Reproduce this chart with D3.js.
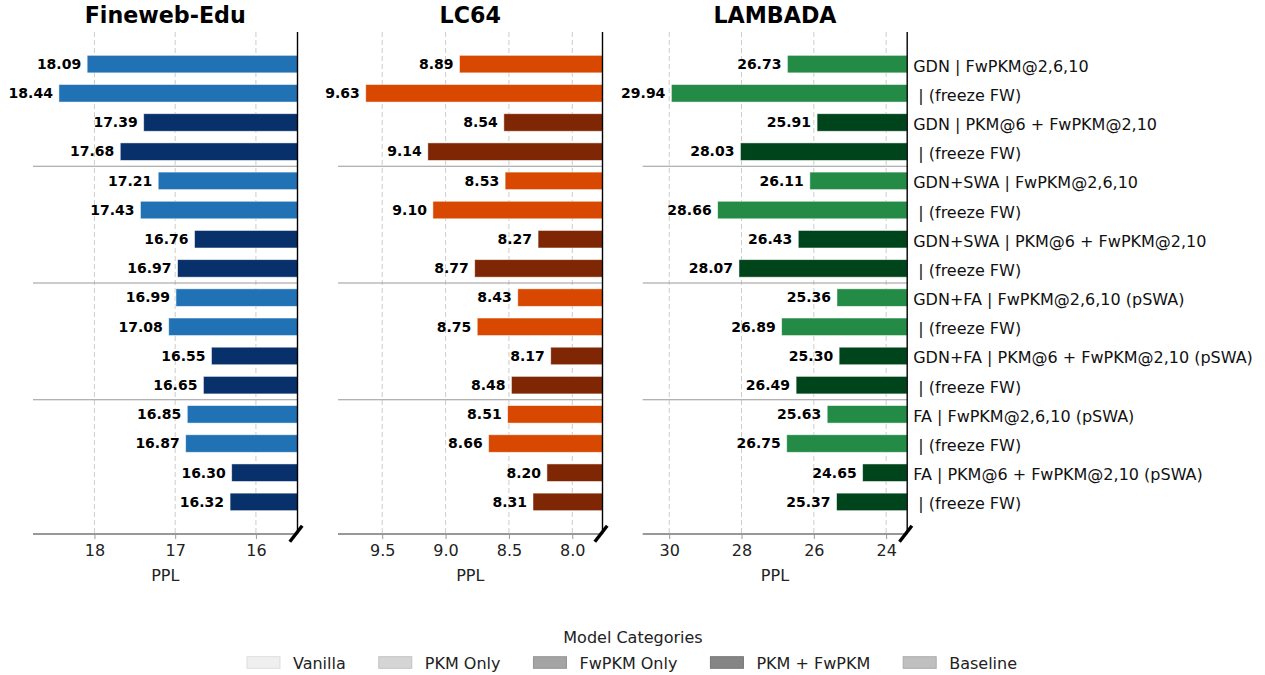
<!DOCTYPE html>
<html>
<head>
<meta charset="utf-8">
<script src="https://cdn.jsdelivr.net/npm/d3@7"></script>
<style>
  body { margin: 0; background: #fff; }
  svg { font-family: "DejaVu Sans", sans-serif; }
  text { white-space: pre; }
</style>
</head>
<body>
<svg id="chart" width="1265" height="675"></svg>
<script>
// data
var rowLabels = [
	"GDN | FwPKM@2,6,10", " | (freeze FW)",
	"GDN | PKM@6 + FwPKM@2,10", " | (freeze FW)",
	"GDN+SWA | FwPKM@2,6,10", " | (freeze FW)",
	"GDN+SWA | PKM@6 + FwPKM@2,10", " | (freeze FW)",
	"GDN+FA | FwPKM@2,6,10 (pSWA)", " | (freeze FW)",
	"GDN+FA | PKM@6 + FwPKM@2,10 (pSWA)", " | (freeze FW)",
	"FA | FwPKM@2,6,10 (pSWA)", " | (freeze FW)",
	"FA | PKM@6 + FwPKM@2,10 (pSWA)", " | (freeze FW)"
];
// category of each row: "fw" = FwPKM Only, "both" = PKM + FwPKM
var rowCategory = ["fw", "fw", "both", "both", "fw", "fw", "both", "both",
	"fw", "fw", "both", "both", "fw", "fw", "both", "both"];

var finewebPPL = [18.09, 18.44, 17.39, 17.68, 17.21, 17.43, 16.76, 16.97,
	16.99, 17.08, 16.55, 16.65, 16.85, 16.87, 16.30, 16.32];
var lc64PPL = [8.89, 9.63, 8.54, 9.14, 8.53, 9.10, 8.27, 8.77,
	8.43, 8.75, 8.17, 8.48, 8.51, 8.66, 8.20, 8.31];
var lambadaPPL = [26.73, 29.94, 25.91, 28.03, 26.11, 28.66, 26.43, 28.07,
	25.36, 26.89, 25.30, 26.49, 25.63, 26.75, 24.65, 25.37];

var finewebTicks = [18, 17, 16];
var lc64Ticks = [9.5, 9.0, 8.5, 8.0];
var lambadaTicks = [30, 28, 26, 24];

var groupBreaks = [3.5, 7.5, 11.5];

var legendNames = ["Vanilla", "PKM Only", "FwPKM Only", "PKM + FwPKM", "Baseline"];
var legendFills = ["#efefef", "#d5d5d5", "#a4a4a4", "#858585", "#bfbfbf"];
var legendEdges = ["#dedede", "#c2c2c2", "#949494", "#777777", "#acacac"];

var panels = [
	{ title: "Fineweb-Edu", values: finewebPPL, ticks: finewebTicks, fmt: d3.format("d"),
		colors: { fw: "#2171b5", both: "#08306b" }, left: 33 },
	{ title: "LC64", values: lc64PPL, ticks: lc64Ticks, fmt: d3.format(".1f"),
		colors: { fw: "#d94801", both: "#7f2704" }, left: 338 },
	{ title: "LAMBADA", values: lambadaPPL, ticks: lambadaTicks, fmt: d3.format("d"),
		colors: { fw: "#238b45", both: "#00441b" }, left: 642.7 }
];

var panelWidth = 264.5,
	plotTop = 32,
	plotBottom = 534;

var svg = d3.select("#chart");

var y = d3.scaleLinear().domain([-1.1, 16.1]).range([plotTop, plotBottom]);
var barH = y(0.6) - y(0);

panels.forEach(function (p, pi) {
	var vmax = d3.max(p.values),
		vmin = d3.min(p.values);
	// reversed axis: larger ppl on the left
	var x = d3.scaleLinear()
		.domain([vmax + 0.15 * (vmax - vmin), vmin * 0.95])
		.range([p.left, p.left + panelWidth]);
	var right = p.left + panelWidth;

	var g = svg.append("g").attr("class", "panel");

	// grid
	g.selectAll("line.grid")
		.data(p.ticks)
		.enter()
		.append("line")
		.attr("x1", (d) => x(d))
		.attr("x2", (d) => x(d))
		.attr("y1", plotTop)
		.attr("y2", plotBottom)
		.attr("stroke", "#cccccc")
		.attr("stroke-width", 1)
		.attr("stroke-dasharray", "5,3");

	// group separators
	g.selectAll("line.sep")
		.data(groupBreaks)
		.enter()
		.append("line")
		.attr("x1", p.left)
		.attr("x2", right)
		.attr("y1", (d) => y(d))
		.attr("y2", (d) => y(d))
		.attr("stroke", "#999999")
		.attr("stroke-width", 1.2);

	// bars
	g.selectAll("rect")
		.data(p.values)
		.enter()
		.append("rect")
		.attr("x", (d) => x(d))
		.attr("width", (d) => right - x(d))
		.attr("y", (d, i) => y(i) - barH / 2)
		.attr("height", barH)
		.attr("fill", (d, i) => p.colors[rowCategory[i]])
		.attr("stroke", "#ffffff")
		.attr("stroke-opacity", 0.6)
		.attr("stroke-width", 0.8);

	// value labels
	g.selectAll("text.val")
		.data(p.values)
		.enter()
		.append("text")
		.attr("x", (d) => x(d) - 6)
		.attr("y", (d, i) => y(i) + 4.8)
		.attr("text-anchor", "end")
		.style("font-size", "14px")
		.style("font-weight", "bold")
		.style("fill", "#000")
		.text((d) => d.toFixed(2));

	// x axis
	var axis = g.append("g")
		.attr("transform", "translate(0," + plotBottom + ")")
		.call(d3.axisBottom(x).tickValues(p.ticks).tickFormat(p.fmt).tickSize(5).tickPadding(6));
	axis.select(".domain").attr("stroke", "#333").attr("stroke-width", 1.2)
		.attr("d", "M" + p.left + ",0H" + right);
	axis.selectAll(".tick line").attr("stroke", "#999");
	axis.selectAll(".tick text")
		.style("font-size", "16px")
		.style("font-family", "DejaVu Sans")
		.style("fill", "#222");

	// right spine
	g.append("line")
		.attr("x1", right)
		.attr("x2", right)
		.attr("y1", plotTop)
		.attr("y2", plotBottom)
		.attr("stroke", "#000")
		.attr("stroke-width", 1.4);

	// break mark
	g.append("line")
		.attr("x1", right - 7.7)
		.attr("y1", plotBottom + 7.7)
		.attr("x2", right + 4.7)
		.attr("y2", plotBottom - 8.3)
		.attr("stroke", "#000")
		.attr("stroke-width", 3.4);

	// title
	g.append("text")
		.attr("x", p.left + panelWidth / 2)
		.attr("y", 23)
		.attr("text-anchor", "middle")
		.style("font-size", "22.2px")
		.style("font-weight", "bold")
		.text(p.title);

	// x label
	g.append("text")
		.attr("x", p.left + panelWidth / 2)
		.attr("y", 581)
		.attr("text-anchor", "middle")
		.style("font-size", "16px")
		.style("fill", "#222")
		.text("PPL");

	// row labels on the last panel
	if (pi === panels.length - 1) {
		g.selectAll("text.row")
			.data(rowLabels)
			.enter()
			.append("text")
			.attr("x", right + 6)
			.attr("y", (d, i) => y(i) + 7.5)
			.style("font-size", "16px")
			.style("fill", "#111")
			.text((d) => d);
	}
});

// legend
var legend = svg.append("g").attr("class", "legend");
legend.append("text")
	.attr("x", 633)
	.attr("y", 643)
	.attr("text-anchor", "middle")
	.style("font-size", "16px")
	.style("fill", "#222")
	.text("Model Categories");

var swW = 33, swH = 11.6, textPad = 13, colGap = 33;
var items = legend.selectAll("g.item")
	.data(legendNames)
	.enter()
	.append("g")
	.attr("class", "item");
items.append("rect")
	.attr("width", swW)
	.attr("height", swH)
	.attr("y", 656.7)
	.attr("fill", (d, i) => legendFills[i])
	.attr("stroke", (d, i) => legendEdges[i])
	.attr("stroke-width", 1);
items.append("text")
	.attr("y", 669)
	.attr("x", swW + textPad)
	.style("font-size", "16px")
	.style("fill", "#222")
	.text((d) => d);

var widths = [];
items.select("text").each(function () { widths.push(this.getComputedTextLength()); });
var total = d3.sum(widths) + legendNames.length * (swW + textPad) + (legendNames.length - 1) * colGap;
var cx = 632 - total / 2;
items.each(function (d, i) {
	d3.select(this).attr("transform", "translate(" + cx + ",0)");
	cx += swW + textPad + widths[i] + colGap;
});
</script>
</body>
</html>
